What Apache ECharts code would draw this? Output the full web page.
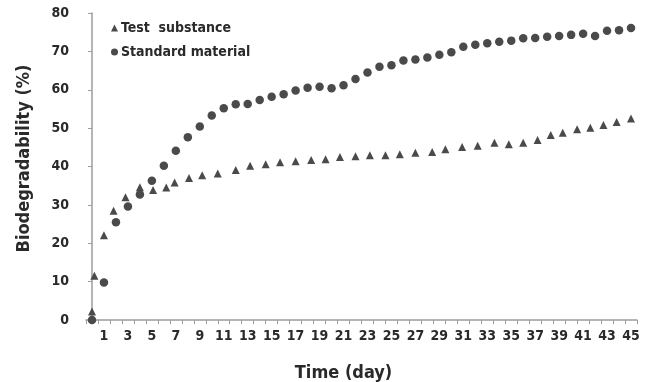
<!DOCTYPE html>
<html>
<head>
<meta charset="utf-8">
<script src="https://cdn.jsdelivr.net/npm/echarts@6/dist/echarts.min.js"></script>
<style>
  html, body { margin: 0; padding: 0; background: #fff; }
  #chart { width: 647px; height: 382px; }
</style>
</head>
<body>
<div id="chart"></div>
<script>
// standard material: one reading per day, day 0..45
const standardDays = [0,1,2,3,4,5,6,7,8,9,10,11,12,13,14,15,16,17,18,19,20,21,22,
  23,24,25,26,27,28,29,30,31,32,33,34,35,36,37,38,39,40,41,42,43,44,45];
const standardValues = [0,9.8,25.5,29.6,32.7,36.3,40.2,44.1,47.6,50.4,53.3,55.2,56.2,56.3,
  57.3,58.2,58.8,59.8,60.5,60.8,60.4,61.2,62.8,64.5,66.0,66.4,67.6,67.9,68.4,69.1,69.8,
  71.2,71.7,72.1,72.5,72.8,73.4,73.5,73.8,74.0,74.3,74.6,74.0,75.4,75.5,76.1];

// test substance: sampled at its own times
const testDays = [0,0.2,1.0,1.8,2.8,4.0,5.1,6.2,6.9,8.1,9.2,10.5,12.0,13.2,14.5,15.7,17.0,
  18.3,19.5,20.7,22.0,23.2,24.5,25.7,27.0,28.4,29.5,30.9,32.2,33.6,34.8,36.0,37.2,38.3,
  39.3,40.5,41.6,42.7,43.8,45.0];
const testValues = [2.2,11.5,22.1,28.5,32.0,34.6,33.9,34.5,35.8,37.0,37.7,38.2,39.1,40.2,
  40.6,41.1,41.4,41.7,41.9,42.5,42.7,42.9,42.9,43.2,43.6,43.8,44.5,45.1,45.4,46.2,45.8,
  46.2,46.9,48.2,48.8,49.7,50.1,50.8,51.6,52.5];

const dayLabels = [1,3,5,7,9,11,13,15,17,19,21,23,25,27,29,31,33,35,37,39,41,43,45];

const FONT = '"Liberation Sans Narrow", "DejaVu Sans Condensed", "Open Sans", sans-serif';
const INK = '#2a2a2a';
const MARK = '#4a4a4a';
const AXIS = '#9c9c9c';

// ticks sit between days
const dayTicks = [];
for (let i = 0; i <= 46; i++) dayTicks.push(i - 0.5);

const chart = echarts.init(document.getElementById('chart'));
chart.setOption({
  animation: false,
  grid: { left: 86, right: 10, top: 13, bottom: 62, outerBoundsMode: 'none' },
  legend: {
    orient: 'vertical',
    left: 106,
    top: 16,
    itemWidth: 7,
    itemHeight: 7,
    itemGap: 10,
    textStyle: { fontFamily: FONT, fontWeight: 'bold', fontSize: 14, color: INK, padding: [0, 0, 0, -2] },
    data: [
      { name: 'Test  substance', icon: 'triangle' },
      { name: 'Standard material', icon: 'circle' }
    ]
  },
  xAxis: {
    type: 'value',
    min: -0.5,
    max: 45.5,
    name: 'Time (day)',
    nameLocation: 'middle',
    nameGap: 44,
    nameTextStyle: { fontFamily: FONT, fontWeight: 'bold', fontSize: 18, color: INK, padding: [0, 36, 0, 0] },
    splitLine: { show: false },
    axisLine: { lineStyle: { color: AXIS, width: 1.5 } },
    axisTick: { customValues: dayTicks, length: 4, lineStyle: { color: AXIS } },
    axisLabel: {
      customValues: dayLabels,
      margin: 9,
      fontFamily: FONT, fontWeight: 'bold', fontSize: 14, color: INK
    }
  },
  yAxis: {
    type: 'value',
    min: 0,
    max: 80,
    interval: 10,
    name: 'Biodegradability (%)',
    nameLocation: 'middle',
    nameGap: 53,
    nameTextStyle: { fontFamily: FONT, fontWeight: 'bold', fontSize: 18, color: INK, padding: [0, 0, 0, 16] },
    splitLine: { show: false },
    axisLine: { show: true, lineStyle: { color: AXIS, width: 1.5 } },
    axisTick: { show: true, length: 4, lineStyle: { color: AXIS } },
    axisLabel: {
      margin: 17,
      fontFamily: FONT, fontWeight: 'bold', fontSize: 14, color: INK
    }
  },
  series: [
    {
      name: 'Test  substance',
      type: 'scatter',
      symbol: 'triangle',
      symbolSize: [8, 8],
      itemStyle: { color: MARK, opacity: 1 },
      data: testDays.map((d, i) => [d, testValues[i]])
    },
    {
      name: 'Standard material',
      type: 'scatter',
      symbol: 'circle',
      symbolSize: 8.5,
      itemStyle: { color: MARK, opacity: 1 },
      data: standardDays.map((d, i) => [d, standardValues[i]])
    }
  ]
});
</script>
</body>
</html>
